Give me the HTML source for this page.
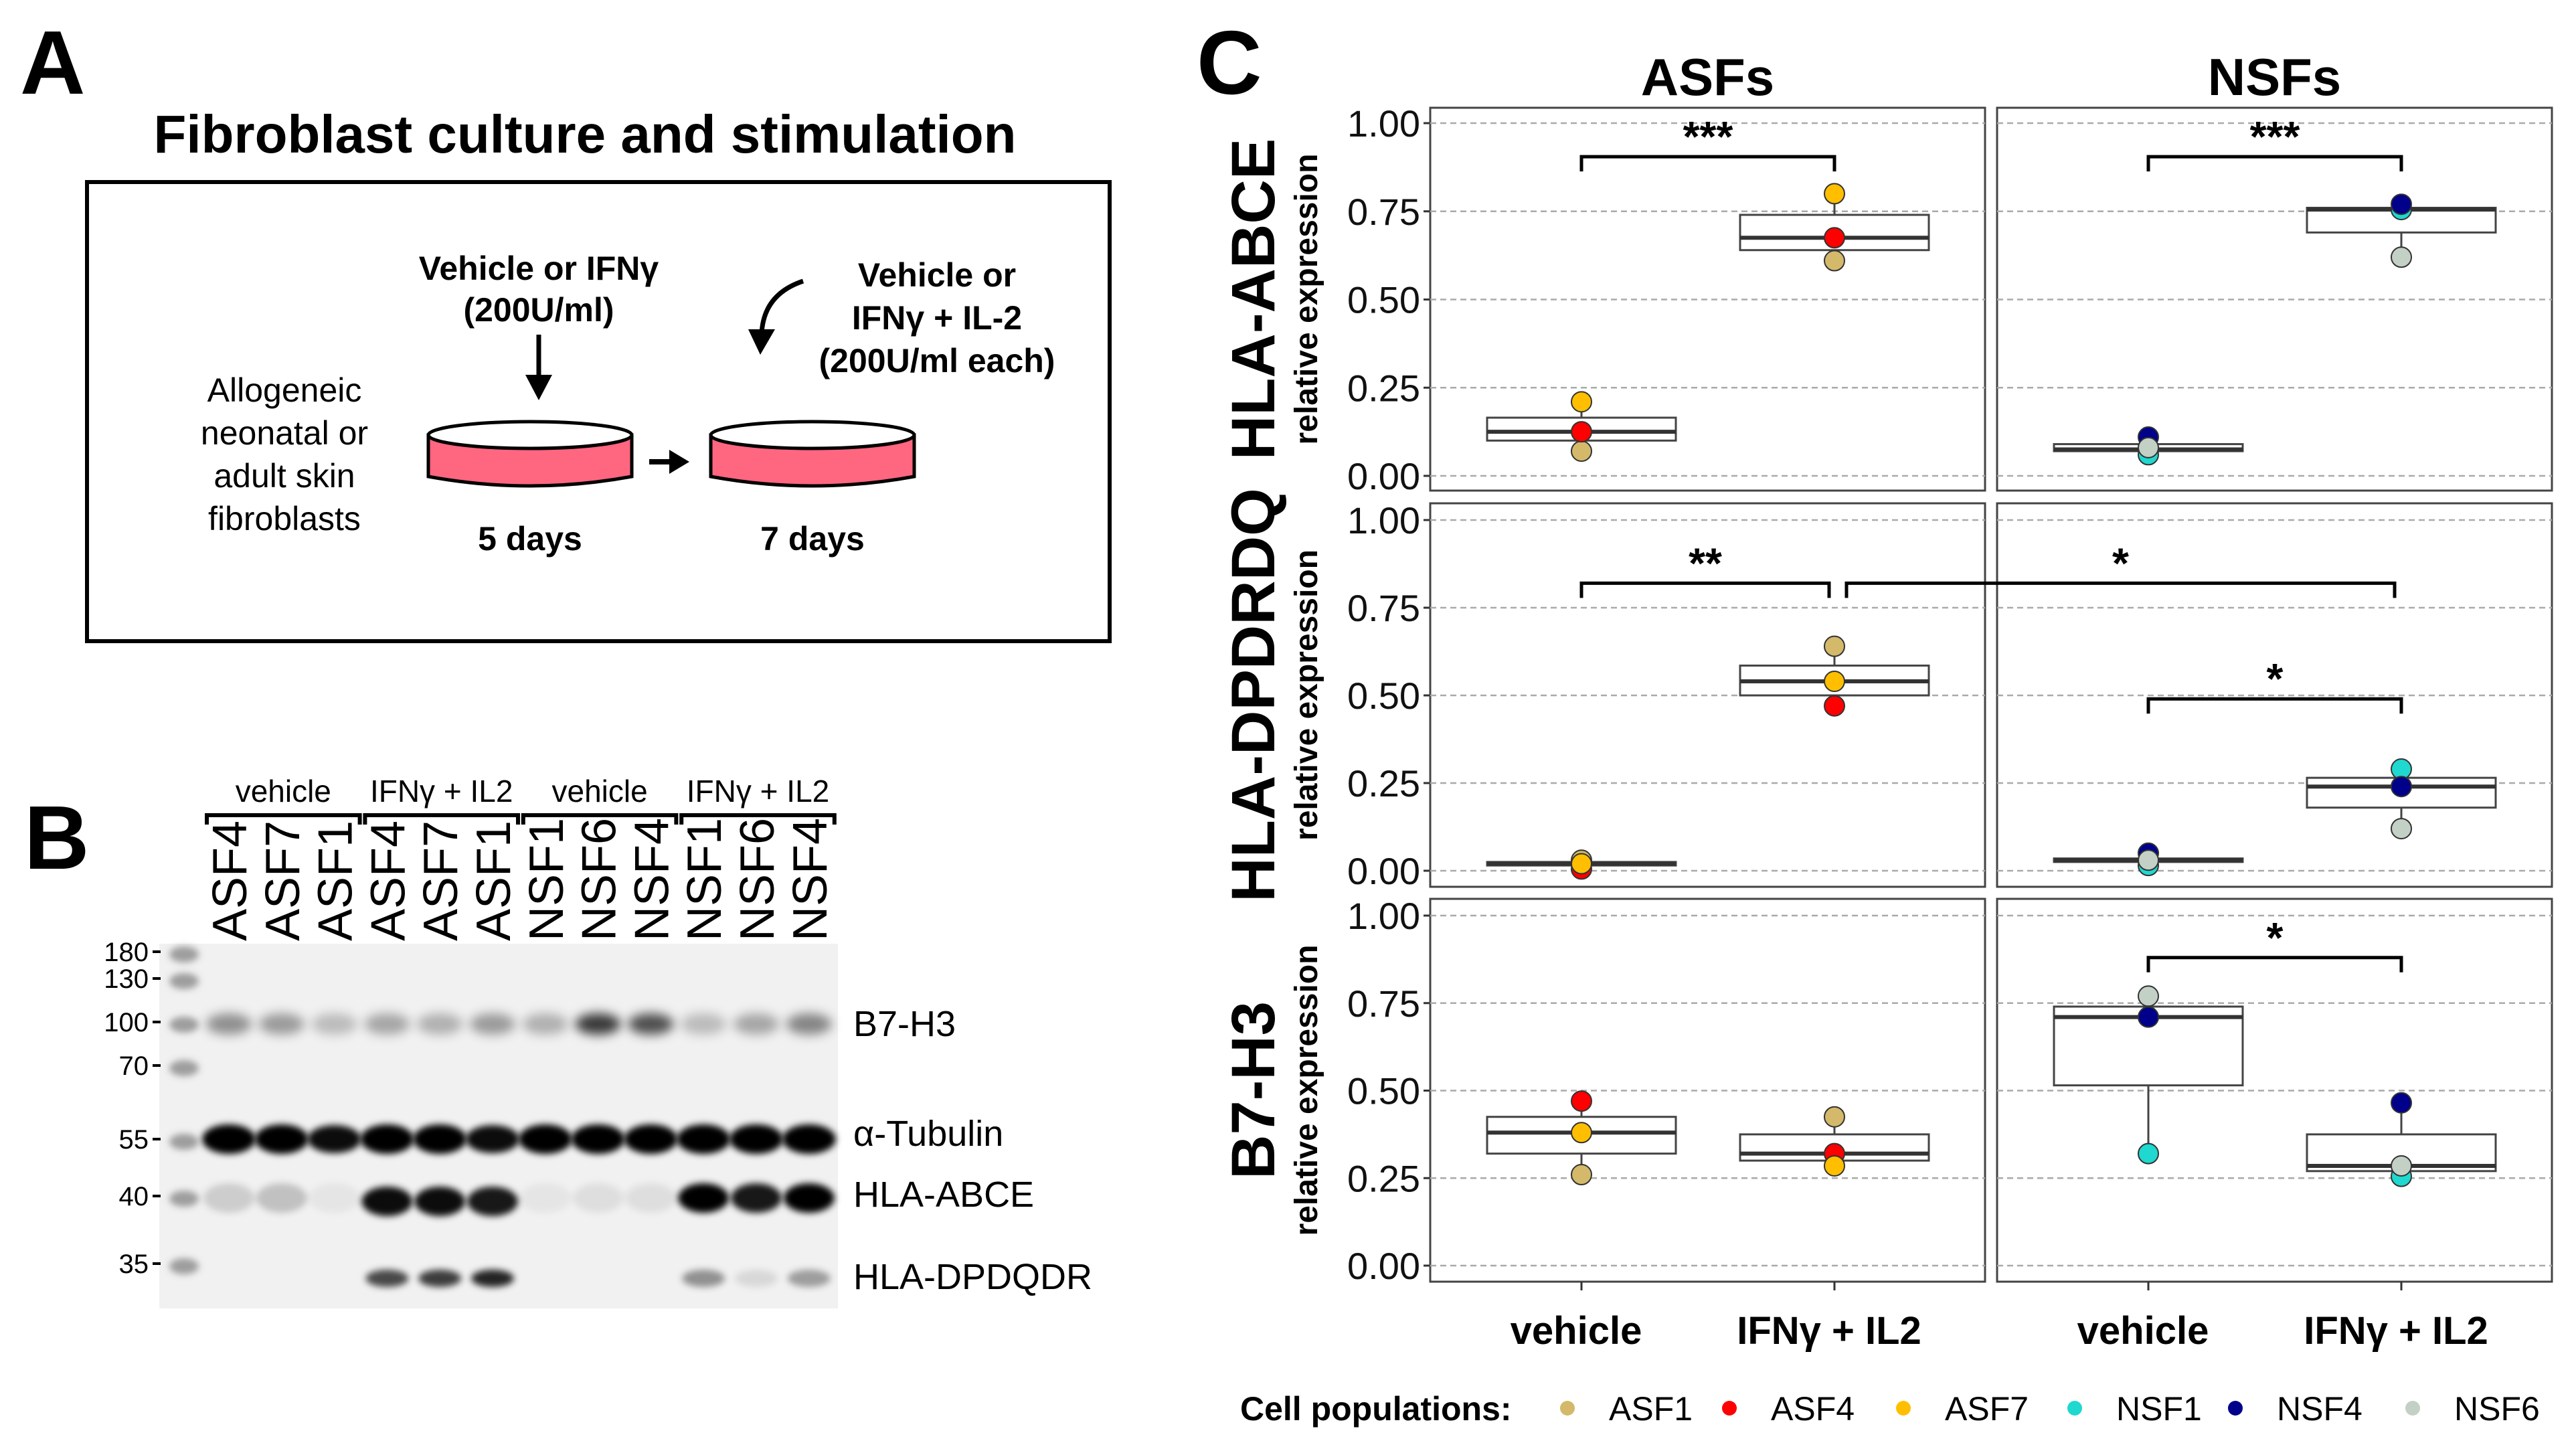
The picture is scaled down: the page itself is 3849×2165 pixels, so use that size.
<!DOCTYPE html>
<html><head><meta charset="utf-8">
<style>
html,body{margin:0;padding:0;background:#fff;}
svg{display:block;font-family:"Liberation Sans",Arial,sans-serif;}
</style></head>
<body>
<svg id="fig" width="3849" height="2165" viewBox="0 0 3849 2165" xmlns="http://www.w3.org/2000/svg">
<defs>
<filter id="blur" x="-50%" y="-100%" width="200%" height="300%"><feGaussianBlur stdDeviation="8"/></filter>
<filter id="blur2" x="-50%" y="-100%" width="200%" height="300%"><feGaussianBlur stdDeviation="5"/></filter>
</defs>

<!-- Panel A -->
<g>
<text x="30" y="140" font-size="135" font-weight="bold">A</text>
<text x="874" y="228" font-size="80" font-weight="bold" text-anchor="middle">Fibroblast culture and stimulation</text>
<rect x="130" y="272" width="1528" height="686" fill="none" stroke="#000" stroke-width="6"/>
<g font-size="50" text-anchor="middle">
<text x="425" y="600">Allogeneic</text><text x="425" y="664">neonatal or</text><text x="425" y="728">adult skin</text><text x="425" y="792">fibroblasts</text>
</g>
<g font-size="50" font-weight="bold" text-anchor="middle">
<text x="805" y="418">Vehicle or IFNγ</text><text x="805" y="480">(200U/ml)</text>
</g>
<line x1="805" y1="500" x2="805" y2="570" stroke="#000" stroke-width="7"/>
<polygon points="785,560 825,560 805,598" fill="#000"/>
<g font-size="50" font-weight="bold" text-anchor="middle">
<text x="1400" y="428">Vehicle or</text><text x="1400" y="492">IFNγ + IL-2</text><text x="1400" y="556">(200U/ml each)</text>
</g>
<path d="M1200,420 Q1140,440 1138,500" fill="none" stroke="#000" stroke-width="7"/>
<polygon points="1118,492 1158,492 1136,530" fill="#000"/>
<g>
<path d="M640,650 L640,712 Q792,740 944,712 L944,650 Z" fill="#ff6680" stroke="#000" stroke-width="5"/>
<ellipse cx="792" cy="650" rx="152" ry="20" fill="#fff" stroke="#000" stroke-width="5"/>
</g>
<g>
<path d="M1062,650 L1062,712 Q1214,740 1366,712 L1366,650 Z" fill="#ff6680" stroke="#000" stroke-width="5"/>
<ellipse cx="1214" cy="650" rx="152" ry="20" fill="#fff" stroke="#000" stroke-width="5"/>
</g>
<line x1="970" y1="690" x2="1005" y2="690" stroke="#000" stroke-width="8"/>
<polygon points="1000,672 1030,690 1000,708" fill="#000"/>
<text x="792" y="822" font-size="50" font-weight="bold" text-anchor="middle">5 days</text>
<text x="1214" y="822" font-size="50" font-weight="bold" text-anchor="middle">7 days</text>
</g>

<!-- Panel B -->
<g id="panelB">
<text x="36" y="1298" font-size="135" font-weight="bold">B</text>
<rect x="238" y="1410" width="1014" height="545" fill="#f1f1f1"/>
</g>

<!-- Panel C -->
<g id="panelC">
<text x="1788" y="140" font-size="135" font-weight="bold">C</text>
</g>
</svg>

<script>
// ---------- Panel B data ----------
const laneNames = ["ASF4","ASF7","ASF1","ASF4","ASF7","ASF1","NSF1","NSF6","NSF4","NSF1","NSF6","NSF4"];
const groupNames = ["vehicle","IFNγ + IL2","vehicle","IFNγ + IL2"];
const b7Intensity = [0.45,0.4,0.25,0.35,0.3,0.4,0.3,0.85,0.75,0.25,0.35,0.5];
const tubIntensity = [1,1,0.95,1,1,0.95,1,1,1,1,1,1];
const abceIntensity = [0.15,0.2,0.05,0.95,0.95,0.9,0.05,0.08,0.08,1,0.9,1];
const dpIntensity = [0,0,0,0.7,0.75,0.85,0,0,0,0.4,0.1,0.35];
const mwLabels = ["180","130","100","70","55","40","35"];
const mwY = [1422,1462,1527,1592,1702,1787,1888];
const bandLabels = ["B7-H3","α-Tubulin","HLA-ABCE","HLA-DPDQDR"];
const bandLabelY = [1548,1712,1803,1926];

// ---------- Panel C data ----------
const rowNames = ["HLA-ABCE","HLA-DPDRDQ","B7-H3"];
const colNames = ["ASFs","NSFs"];
const catNames = ["vehicle","IFNγ + IL2"];
const yTicks = [0,0.25,0.5,0.75,1];
const yTickLabels = ["0.00","0.25","0.50","0.75","1.00"];
const boxQ1 = [[[0.10,0.64],[0.07,0.69]],[[0.015,0.50],[0.025,0.18]],[[0.32,0.30],[0.515,0.27]]];
const boxMed = [[[0.125,0.675],[0.075,0.755]],[[0.02,0.54],[0.03,0.24]],[[0.38,0.32],[0.71,0.285]]];
const boxQ3 = [[[0.165,0.74],[0.09,0.76]],[[0.025,0.585],[0.035,0.265]],[[0.425,0.375],[0.74,0.375]]];
const ptsASF = [[[0.07,0.125,0.21],[0.61,0.675,0.80]],[[0.03,0.005,0.02],[0.64,0.47,0.54]],[[0.26,0.47,0.38],[0.425,0.32,0.285]]];
const ptsNSF = [[[0.06,0.11,0.08],[0.755,0.77,0.62]],[[0.015,0.05,0.03],[0.29,0.24,0.12]],[[0.32,0.71,0.77],[0.255,0.465,0.285]]];
const asfNames = ["ASF1","ASF4","ASF7"];
const nsfNames = ["NSF1","NSF4","NSF6"];
const legendNames = ["ASF1","ASF4","ASF7","NSF1","NSF4","NSF6"];
const legendColors = ["#d4b96a","#ff0000","#ffbf00","#1fd8cf","#00008b","#c3d0c6"];
const bracketRows = [0,0,1,1,1,2];
const bracketFrom = [[0,0],[1,0],[0,0],[0,1],[1,0],[1,0]];
const bracketTo = [[0,1],[1,1],[0,1],[1,1],[1,1],[1,1]];
const bracketY = [0.905,0.905,0.82,0.82,0.49,0.88];
const bracketLabel = ["***","***","**","*","*","*"];

const NS = "http://www.w3.org/2000/svg";
function mk(tag, attrs, parent, txt){
  const e = document.createElementNS(NS, tag);
  for (const k in attrs) e.setAttribute(k, attrs[k]);
  if (txt !== undefined) e.textContent = txt;
  parent.appendChild(e);
  return e;
}

// ---- draw panel B ----
const pB = document.getElementById("panelB");
const laneX = i => 342 + i * 78.8;
groupNames.forEach((g,gi)=>{
  const x0 = laneX(gi*3) - 33, x1 = laneX(gi*3+2) + 38;
  const t = mk("text",{x:(x0+x1)/2,y:1198,"font-size":46,"text-anchor":"middle"},pB,g);
  
  
  const p = mk("path",{d:`M${x0},1232 L${x0},1218 L${x1},1218 L${x1},1232`,fill:"none",stroke:"#000","stroke-width":6},pB);
  
  
});
laneNames.forEach((n,i)=>{
  const x = laneX(i);
  const t = mk("text",{x:0,y:0,"font-size":72,transform:`translate(${x+26},1406) rotate(-90)`},pB,n);
  
  
  const gB = mk("g",{},pB);
  
  
  if (b7Intensity[i]>0) mk("ellipse",{cx:x,cy:1530,rx:34,ry:16,fill:"#000","fill-opacity":b7Intensity[i]*0.9,filter:"url(#blur)"},gB);
  mk("ellipse",{cx:x,cy:1702,rx:40,ry:22*tubIntensity[i],fill:"#000","fill-opacity":tubIntensity[i],filter:"url(#blur2)"},gB);
  if (abceIntensity[i]>0) mk("ellipse",{cx:x,cy:i>=3&&i<=5?1795:1790,rx:38,ry:22,fill:"#000","fill-opacity":abceIntensity[i],filter:"url(#blur2)"},gB);
  if (dpIntensity[i]>0) mk("ellipse",{cx:x,cy:1910,rx:32,ry:13,fill:"#000","fill-opacity":dpIntensity[i],filter:"url(#blur2)"},gB);
});
mwLabels.forEach((m,i)=>{
  const t = mk("text",{x:222,y:mwY[i]+14,"font-size":40,"text-anchor":"end"},pB,m);
  
  
  mk("line",{x1:228,y1:mwY[i],x2:240,y2:mwY[i],stroke:"#000","stroke-width":4},pB);
  mk("ellipse",{cx:275,cy:mwY[i]+4,rx:22,ry:12,fill:"#666","fill-opacity":0.6,filter:"url(#blur2)"},pB);
});
bandLabels.forEach((b,i)=>{
  const t = mk("text",{x:1275,y:bandLabelY[i],"font-size":54},pB,b);
  
  
});

// ---- draw panel C ----
const pC = document.getElementById("panelC");
const panelLeft = [2137, 2984], panelW = 829;
const rowTop = [161, 752, 1343], rowBot = [733, 1325, 1915];
const yZero = [711, 1301, 1891], yOne = [184, 777, 1368];
const catOff = [226, 604];
const xPos = (c, k) => panelLeft[c] + catOff[k];
const yPos = (r, v) => yZero[r] + (yOne[r]-yZero[r]) * v;
const halfBox = 141;

colNames.forEach((c,ci)=>{
  const t = mk("text",{x:panelLeft[ci]+panelW/2,y:142,"font-size":78,"font-weight":"bold","text-anchor":"middle"},pC,c);
  
  
});
rowNames.forEach((rn,r)=>{
  const cy = (rowTop[r]+rowBot[r])/2;
  const t = mk("text",{x:0,y:0,"font-size":92,"font-weight":"bold","text-anchor":"middle",transform:`translate(1904,${cy}) rotate(-90)`},pC,rn);
  
  
  const t2 = mk("text",{x:0,y:0,"font-size":48,"font-weight":"bold","text-anchor":"middle",transform:`translate(1968,${cy}) rotate(-90)`},pC,"relative expression");
  
  
  yTicks.forEach((v,ti)=>{
    const lab = mk("text",{x:2122,y:yPos(r,v)+20,"font-size":56,"text-anchor":"end",fill:"#111"},pC,yTickLabels[ti]);
    
    
    mk("line",{x1:2127,y1:yPos(r,v),x2:2137,y2:yPos(r,v),stroke:"#333","stroke-width":3},pC);
  });
  colNames.forEach((cn,c)=>{
    const g = mk("g",{},pC);
    
    
    mk("rect",{x:panelLeft[c],y:rowTop[r],width:panelW,height:rowBot[r]-rowTop[r],fill:"#fff",stroke:"#444","stroke-width":3},g);
    yTicks.forEach(v=>{
      mk("line",{x1:panelLeft[c],x2:panelLeft[c]+panelW,y1:yPos(r,v),y2:yPos(r,v),stroke:"#aaa","stroke-width":2.5,"stroke-dasharray":"9,6"},g);
    });
    catNames.forEach((cat,k)=>{
      const x = xPos(c,k);
      const pts = (c===0?ptsASF:ptsNSF)[r][k];
      const names = c===0?asfNames:nsfNames;
      const lo = Math.min(...pts), hi = Math.max(...pts);
      const q1 = boxQ1[r][c][k], md = boxMed[r][c][k], q3 = boxQ3[r][c][k];
      const w1 = mk("line",{x1:x,x2:x,y1:yPos(r,q3),y2:yPos(r,Math.max(hi,q3)),stroke:"#444","stroke-width":3},g);
      
      
      const w2 = mk("line",{x1:x,x2:x,y1:yPos(r,q1),y2:yPos(r,Math.min(lo,q1)),stroke:"#444","stroke-width":3},g);
      
      
      const bx = mk("rect",{x:x-halfBox,y:yPos(r,q3),width:2*halfBox,height:Math.max(3,yPos(r,q1)-yPos(r,q3)),fill:"#fff",stroke:"#444","stroke-width":3},g);
      
      
      const ml = mk("line",{x1:x-halfBox,x2:x+halfBox,y1:yPos(r,md),y2:yPos(r,md),stroke:"#333","stroke-width":6},g);
      
      
      pts.forEach((v,pi)=>{
        const col = legendColors[legendNames.indexOf(names[pi])];
        const ci2 = mk("circle",{cx:x,cy:yPos(r,v),r:15,fill:col,stroke:"#333","stroke-width":2},g);
        
        
      });
    });
  });
});
colNames.forEach((cn,c)=>{
  catNames.forEach((cat,k)=>{
    const x = xPos(c,k);
    mk("line",{x1:x,x2:x,y1:1915,y2:1928,stroke:"#333","stroke-width":3},pC);
    const t = mk("text",{x:x-8,y:2008,"font-size":58,"font-weight":"bold","text-anchor":"middle"},pC,cat);
    
    
  });
});
bracketRows.forEach((r,i)=>{
  const xa = xPos(bracketFrom[i][0],bracketFrom[i][1]) + (i===3?18:0);
  const xb = xPos(bracketTo[i][0],bracketTo[i][1]) - (i===3?10:(i===2?8:0));
  const y = yPos(r,bracketY[i]);
  const p = mk("path",{d:`M${xa},${y+22} L${xa},${y} L${xb},${y} L${xb},${y+22}`,fill:"none",stroke:"#000","stroke-width":5},pC);
  
  
  const t = mk("text",{x:(xa+xb)/2,y:y-8,"font-size":64,"font-weight":"bold","text-anchor":"middle"},pC,bracketLabel[i]);
  
  
});
const lg = mk("g",{},pC);


mk("text",{x:1853,y:2122,"font-size":50,"font-weight":"bold"},lg,"Cell populations:");
const legX = [2342,2584,2844,3100,3340,3605];
legendNames.forEach((n,i)=>{
  const e = mk("g",{},lg);
  
  
  mk("circle",{cx:legX[i],cy:2104,r:11,fill:legendColors[i]},e);
  mk("text",{x:legX[i]+62,y:2122,"font-size":50},e,n);
});
</script>
</body></html>
